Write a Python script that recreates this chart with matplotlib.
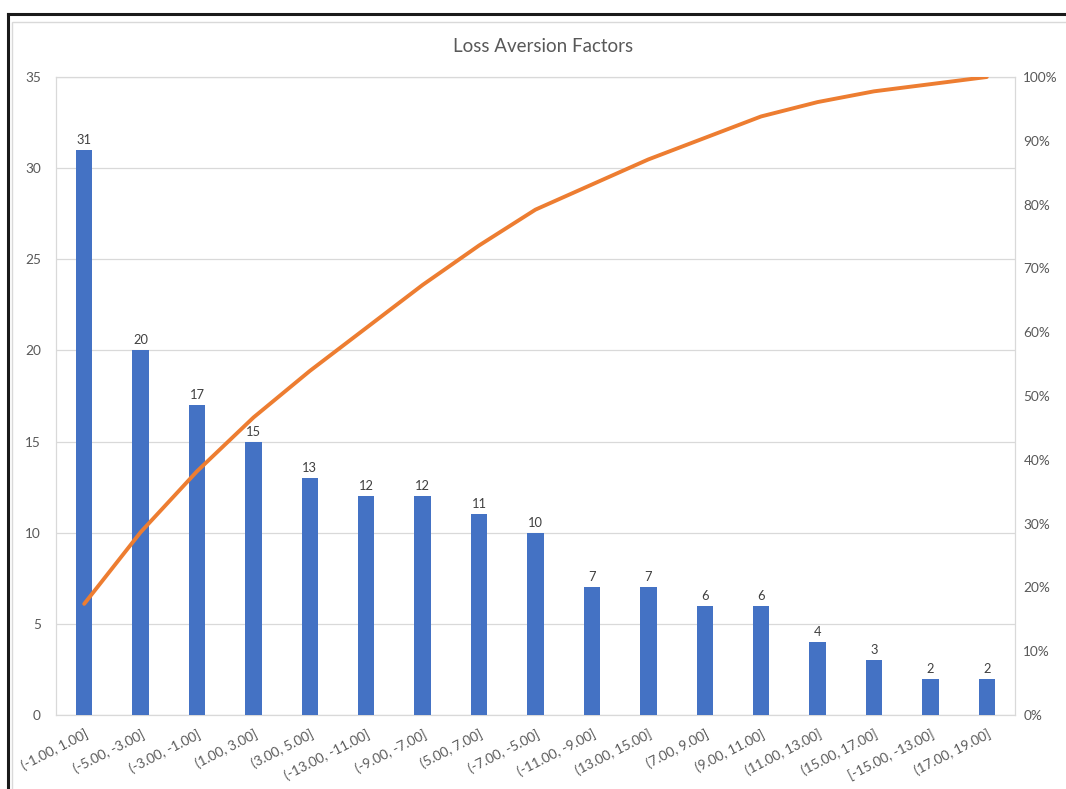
import matplotlib

matplotlib.use("Agg")
import matplotlib.pyplot as plt
from matplotlib.lines import Line2D
from matplotlib.patches import Rectangle
from matplotlib.ticker import FuncFormatter, MultipleLocator
import numpy as np

plt.rcParams["font.family"] = ["Lato", "DejaVu Sans"]

BAR_COLOR = "#4472C4"
LINE_COLOR = "#ED7D31"
TEXT_COLOR = "#595959"
GRID_COLOR = "#D9D9D9"

bins = [
    "(-1.00, 1.00]", "(-5.00, -3.00]", "(-3.00, -1.00]", "(1.00, 3.00]",
    "(3.00, 5.00]", "(-13.00, -11.00]", "(-9.00, -7.00]", "(5.00, 7.00]",
    "(-7.00, -5.00]", "(-11.00, -9.00]", "(13.00, 15.00]", "(7.00, 9.00]",
    "(9.00, 11.00]", "(11.00, 13.00]", "(15.00, 17.00]", "[-15.00, -13.00]",
    "(17.00, 19.00]",
]
counts = [31, 20, 17, 15, 13, 12, 12, 11, 10, 7, 7, 6, 6, 4, 3, 2, 2]

cum_share = np.cumsum(counts) / np.sum(counts)
x = np.arange(len(bins))

fig = plt.figure(figsize=(10.66, 7.89), dpi=100)

# screenshot frame: dark outer edge, light chart-area edge
fig.add_artist(Line2D([8 / 1066, 8 / 1066], [0, 1 - 14 / 789], transform=fig.transFigure,
                      color="#1a1a1a", lw=2.2))
fig.add_artist(Line2D([8 / 1066, 1], [1 - 14 / 789, 1 - 14 / 789], transform=fig.transFigure,
                      color="#1a1a1a", lw=2.2))
fig.add_artist(Rectangle((12 / 1066, -0.01), 1.0, 1 - 22 / 789 + 0.01, transform=fig.transFigure,
                         fill=False, edgecolor=GRID_COLOR, lw=1.0))

ax = fig.add_axes([56 / 1066, 1 - 715 / 789, (1015 - 56) / 1066, (715 - 77) / 789])
ax.bar(x, counts, width=0.29, color=BAR_COLOR, zorder=3)
ax.set_xlim(-0.5, len(bins) - 0.5)
ax.set_ylim(0, 35)
ax.yaxis.set_major_locator(MultipleLocator(5))
ax.grid(axis="y", color=GRID_COLOR, lw=0.9, zorder=0)
for side in ["top", "right", "left", "bottom"]:
    ax.spines[side].set_color(GRID_COLOR)
    ax.spines[side].set_linewidth(0.9)
ax.tick_params(axis="both", length=0, colors=TEXT_COLOR, labelsize=9.8)
ax.tick_params(axis="y", pad=11)
ax.set_xticks(x)
ax.set_xticklabels(bins, rotation=27, ha="right", rotation_mode="anchor")
ax.tick_params(axis="x", pad=9)

for xi, c in zip(x, counts):
    ax.text(xi, c + 0.22, str(c), ha="center", va="bottom", fontsize=9.3, color="#404040")

ax2 = ax.twinx()
ax2.plot(x, cum_share, color=LINE_COLOR, lw=2.8, solid_capstyle="round", zorder=4)
ax2.set_ylim(0, 1)
ax2.yaxis.set_major_locator(MultipleLocator(0.1))
ax2.yaxis.set_major_formatter(FuncFormatter(lambda v, _: f"{v * 100:.0f}%"))
ax2.tick_params(axis="y", length=0, colors=TEXT_COLOR, labelsize=9.8, pad=6)
for side in ax2.spines:
    ax2.spines[side].set_visible(False)

fig.text(543 / 1066, 1 - 46 / 789, "Loss Aversion Factors", ha="center", va="center",
         fontsize=13.5, color=TEXT_COLOR)

fig.savefig("out.png", dpi=100)
